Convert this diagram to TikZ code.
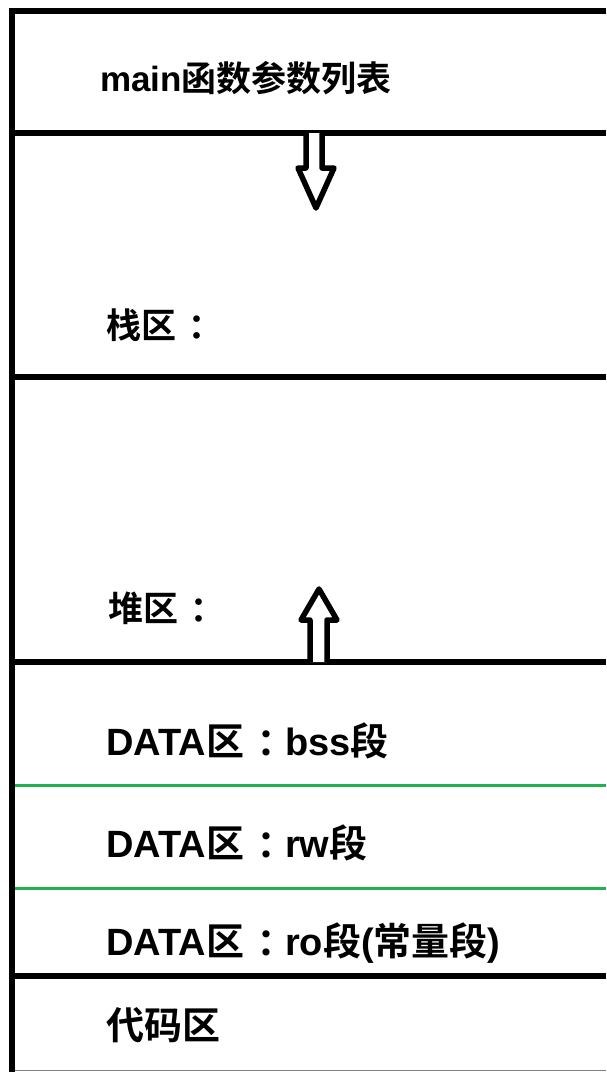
\documentclass[tikz,border=0pt]{standalone}
\usepackage{fontspec}
\setmainfont{Liberation Sans}
\newfontfamily\cjk{Noto Sans CJK SC}[BoldFont={Noto Sans CJK SC Bold}]
\newfontfamily\cjktc{Noto Sans CJK TC}[BoldFont={Noto Sans CJK TC Bold}]
\newcommand{\zh}[1]{{\cjk\bfseries #1}}
\newcommand{\zcolon}{\hspace{0.08em}\raisebox{-0.06em}{\cjktc\bfseries ：}}
\definecolor{paintgreen}{RGB}{34,177,76}
\begin{document}
\begin{tikzpicture}[x=1pt,y=-1pt,
  thickline/.style={line width=6.5pt,black},
  greenline/.style={line width=3pt,paintgreen},
  lbl/.style={anchor=west,inner sep=0pt,font=\bfseries\fontsize{35}{35}\selectfont},
  lblbig/.style={lbl,font=\bfseries\fontsize{38}{38}\selectfont},
  blockarrow/.style={line width=5.5pt,black,fill=white,line join=round}]
\useasboundingbox (0,0) rectangle (606,1072);
\fill[white] (0,0) rectangle (606,1072);
% horizontal separators
\draw[thickline] (9,11) -- (606,11);
\draw[thickline] (12,133) -- (606,133);
\draw[thickline] (12,377) -- (606,377);
\draw[thickline] (12,662) -- (606,662);
\draw[thickline] (12,976) -- (606,976);
\draw[greenline] (10,785) -- (606,785);
\draw[greenline] (10,888) -- (606,888);
\draw[line width=0.8pt,gray] (12,1070.5) -- (606,1070.5);
% left border
\draw[thickline] (12,8) -- (12,1072);
% arrows
\draw[blockarrow] (306,133) -- (306,168) -- (298,168) -- (316,208) -- (334,168) -- (322,168) -- (322,133);
\draw[blockarrow] (310,662) -- (310,620) -- (301,620) -- (319,589) -- (337,620) -- (327,620) -- (327,662);
% labels
\node[lbl] (args) at (100,78) {main\zh{函数参数列表}};
\node[lbl] (stack) at (106,325) {\zh{栈区}\zcolon};
\node[lbl] (heap) at (108,608) {\zh{堆区}\zcolon};
\node[lblbig] (bss) at (106,741) {DATA\zh{区}\zcolon bss\zh{段}};
\node[lblbig] (rw) at (106,843) {DATA\zh{区}\zcolon rw\zh{段}};
\node[lblbig] (ro) at (106,943) {DATA\zh{区}\zcolon ro\zh{段}(\zh{常量段})};
\node[lblbig] (code) at (106,1025) {\zh{代码区}};
\end{tikzpicture}
\end{document}
